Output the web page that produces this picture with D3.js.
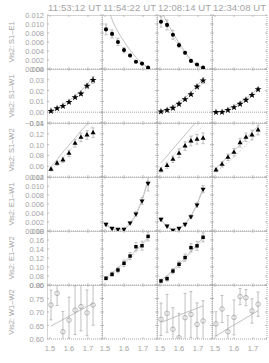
<!DOCTYPE html>
<html>
<head>
<meta charset="utf-8">
<script src="https://cdn.jsdelivr.net/npm/d3@7"></script>
<style>
  html, body { margin: 0; padding: 0; background: #fff; }
  svg { display: block; font-family: "Liberation Sans", "DejaVu Sans", sans-serif; }
  .lbl { fill: #a3a3a3; }
</style>
</head>
<body>
<svg id="chart" width="269" height="363"></svg>
<script>
// ---------------------------------------------------------------------------
// Squared visibility vs wavelength, one row per baseline, one column per epoch
// ---------------------------------------------------------------------------

const TIMES = ["11:53:12 UT", "11:54:22 UT", "12:08:14 UT", "12:34:08 UT"];
const BASELINES = ["S1\u2013E1", "S1\u2013W1", "S1\u2013W2", "E1\u2013W1", "E1\u2013W2", "W1\u2013W2"];
const WAVE = [1.505, 1.537, 1.568, 1.600, 1.632, 1.663, 1.695, 1.727];
const X_DOMAIN = [1.484, 1.774];
const X_TICKS = [1.5, 1.6, 1.7];

// y range and tick values per row
const Y_DOMAINS = [[0, 0.012], [-0.01, 0.04], [0.04, 0.14], [0, 0.012], [0.06, 0.18], [0.60, 0.80]];
const Y_TICKS = [
  [0, 0.002, 0.004, 0.006, 0.008, 0.010, 0.012],
  [-0.01, 0.00, 0.01, 0.02, 0.03, 0.04],
  [0.04, 0.06, 0.08, 0.10, 0.12, 0.14],
  [0, 0.002, 0.004, 0.006, 0.008, 0.010, 0.012],
  [0.06, 0.08, 0.10, 0.12, 0.14, 0.16, 0.18],
  [0.60, 0.65, 0.70, 0.75, 0.80],
];
const Y_FORMATS = [".3f", ".2f", ".2f", ".3f", ".2f", ".2f"];
const SYMBOLS = ["circle", "star", "triangle", "down", "square", "open"];

// S1-E1
const S1E1_T2 = [0.0088, 0.0078, 0.0060, 0.0042, 0.0030, 0.0016, 0.0012, 0.0003];
const S1E1_T2_ERR = [0.0012, 0.0009, 0.0008, 0.0006, 0.0003, 0.0002, 0.0002, 0.0001];
const S1E1_T2_FIT = [0.0150, 0.0110, 0.0083, 0.0061, 0.0042, 0.0026, 0.0013, 0.0004];
const S1E1_T2_ALT = [0.0098, 0.0080, 0.0062, 0.0045, 0.0030, 0.0018, 0.0009, 0.0003];
const S1E1_T3 = [0.0105, 0.0098, 0.0076, 0.0053, 0.0036, 0.0018, 0.0010, 0.0003];
const S1E1_T3_ERR = [0.0012, 0.0011, 0.0010, 0.0005, 0.0003, 0.0002, 0.0002, 0.0001];
const S1E1_T3_FIT = [0.0128, 0.0104, 0.0080, 0.0058, 0.0038, 0.0021, 0.0009, 0.0002];
const S1E1_T3_ALT = [0.0116, 0.0094, 0.0072, 0.0052, 0.0034, 0.0018, 0.0007, 0.0001];

// S1-W1
const S1W1_T1 = [0.0011, 0.0036, 0.0057, 0.0094, 0.0138, 0.0171, 0.0243, 0.0298];
const S1W1_T1_ERR = [0.0008, 0.0008, 0.0008, 0.0010, 0.0012, 0.0015, 0.0020, 0.0030];
const S1W1_T1_FIT = [0.0015, 0.0042, 0.0072, 0.0108, 0.0150, 0.0198, 0.0255, 0.0330];
const S1W1_T1_ALT = [0.0008, 0.0030, 0.0056, 0.0088, 0.0125, 0.0168, 0.0218, 0.0275];
const S1W1_T3 = [0.0005, 0.0020, 0.0039, 0.0076, 0.0119, 0.0166, 0.0236, 0.0292];
const S1W1_T3_ERR = [0.0005, 0.0005, 0.0006, 0.0008, 0.0010, 0.0012, 0.0015, 0.0025];
const S1W1_T3_FIT = [0.0010, 0.0030, 0.0058, 0.0093, 0.0135, 0.0185, 0.0245, 0.0315];
const S1W1_T3_ALT = [0.0002, 0.0020, 0.0044, 0.0075, 0.0112, 0.0156, 0.0208, 0.0268];
const S1W1_T4 = [0.0000, 0.0001, 0.0020, 0.0045, 0.0076, 0.0113, 0.0159, 0.0212];
const S1W1_T4_ERR = [0.0005, 0.0005, 0.0006, 0.0007, 0.0008, 0.0010, 0.0012, 0.0015];
const S1W1_T4_FIT = [-0.0003, 0.0012, 0.0032, 0.0058, 0.0090, 0.0128, 0.0172, 0.0222];
const S1W1_T4_ALT = [-0.0008, 0.0005, 0.0023, 0.0047, 0.0077, 0.0112, 0.0153, 0.0200];

// S1-W2
const S1W2_T1 = [0.0543, 0.0654, 0.0715, 0.0839, 0.1024, 0.1135, 0.1178, 0.1220];
const S1W2_T1_ERR = [0.003, 0.004, 0.005, 0.006, 0.007, 0.008, 0.008, 0.009];
const S1W2_T1_FIT = [0.059, 0.072, 0.086, 0.099, 0.112, 0.125, 0.138, 0.152];
const S1W2_T1_ALT = [0.052, 0.064, 0.076, 0.088, 0.100, 0.112, 0.124, 0.136];
const S1W2_T3 = [0.053, 0.061, 0.0728, 0.0839, 0.0974, 0.1067, 0.1098, 0.1117];
const S1W2_T3_ERR = [0.004, 0.005, 0.006, 0.008, 0.008, 0.009, 0.009, 0.010];
const S1W2_T3_FIT = [0.066, 0.079, 0.092, 0.105, 0.118, 0.131, 0.144, 0.157];
const S1W2_T3_ALT = [0.058, 0.069, 0.080, 0.091, 0.102, 0.113, 0.124, 0.135];
const S1W2_T4 = [0.053, 0.0635, 0.0765, 0.0857, 0.1035, 0.1135, 0.1178, 0.127];
const S1W2_T4_ERR = [0.003, 0.005, 0.006, 0.007, 0.008, 0.008, 0.009, 0.009];
const S1W2_T4_FIT = [0.056, 0.067, 0.078, 0.089, 0.100, 0.111, 0.123, 0.134];
const S1W2_T4_ALT = [0.050, 0.058, 0.067, 0.077, 0.088, 0.099, 0.110, 0.121];

// E1-W1
const E1W1_T2 = [0.0015, 0.0006, 0.0004, 0.0004, 0.0018, 0.0038, 0.0067, 0.0106];
const E1W1_T2_ERR = [0.0003, 0.0002, 0.0002, 0.0002, 0.0003, 0.0005, 0.0008, 0.0017];
const E1W1_T2_FIT = [0.0013, 0.0005, 0.0002, 0.0005, 0.0016, 0.0036, 0.0068, 0.0113];
const E1W1_T2_ALT = [0.0016, 0.0007, 0.0004, 0.0007, 0.0019, 0.0040, 0.0072, 0.0116];
const E1W1_T3 = [0.0026, 0.0011, 0.0002, 0.0006, 0.0015, 0.0032, 0.0058, 0.0093];
const E1W1_T3_ERR = [0.0003, 0.0002, 0.0001, 0.0002, 0.0003, 0.0004, 0.0005, 0.0008];
const E1W1_T3_FIT = [0.0025, 0.0010, 0.0004, 0.0006, 0.0016, 0.0033, 0.0059, 0.0094];
const E1W1_T3_ALT = [0.0027, 0.0012, 0.0005, 0.0007, 0.0017, 0.0035, 0.0062, 0.0098];

// E1-W2
const E1W2_T2 = [0.0749, 0.0838, 0.0933, 0.1082, 0.1244, 0.1451, 0.1473, 0.168];
const E1W2_T2_ERR = [0.004, 0.005, 0.006, 0.007, 0.008, 0.009, 0.010, 0.010];
const E1W2_T2_FIT = [0.076, 0.087, 0.098, 0.110, 0.123, 0.137, 0.151, 0.166];
const E1W2_T2_ALT = [0.072, 0.082, 0.093, 0.105, 0.118, 0.132, 0.147, 0.163];
const E1W2_T3 = [0.069, 0.074, 0.091, 0.106, 0.121, 0.143, 0.147, 0.166];
const E1W2_T3_ERR = [0.004, 0.005, 0.006, 0.007, 0.008, 0.009, 0.010, 0.010];
const E1W2_T3_FIT = [0.070, 0.081, 0.093, 0.106, 0.120, 0.135, 0.150, 0.166];
const E1W2_T3_ALT = [0.066, 0.077, 0.089, 0.102, 0.116, 0.131, 0.146, 0.162];

// W1-W2
const W1W2_T1 = [0.726, 0.769, 0.627, 0.670, 0.707, 0.720, 0.697, 0.726];
const W1W2_T1_ERR = [0.055, 0.045, 0.075, 0.085, 0.090, 0.090, 0.085, 0.075];
const W1W2_T1_FIT = [0.648, 0.660, 0.672, 0.684, 0.696, 0.708, 0.720, 0.732];
const W1W2_T3 = [0.673, 0.695, 0.636, 0.605, 0.679, 0.691, 0.654, 0.667];
const W1W2_T3_ERR = [0.060, 0.070, 0.080, 0.090, 0.090, 0.085, 0.080, 0.075];
const W1W2_T3_FIT = [0.662, 0.670, 0.679, 0.688, 0.697, 0.705, 0.714, 0.723];
const W1W2_T4 = [0.656, 0.711, 0.627, 0.680, 0.757, 0.753, 0.704, 0.729];
const W1W2_T4_ERR = [0.045, 0.050, 0.060, 0.065, 0.030, 0.030, 0.045, 0.045];
const W1W2_T4_FIT = [0.612, 0.625, 0.639, 0.652, 0.665, 0.678, 0.691, 0.705];

// which panel gets which series
const PANELS = [
  { row: 0, col: 1, v: S1E1_T2, e: S1E1_T2_ERR, fit: S1E1_T2_FIT, alt: S1E1_T2_ALT },
  { row: 0, col: 2, v: S1E1_T3, e: S1E1_T3_ERR, fit: S1E1_T3_FIT, alt: S1E1_T3_ALT },
  { row: 1, col: 0, v: S1W1_T1, e: S1W1_T1_ERR, fit: S1W1_T1_FIT, alt: S1W1_T1_ALT },
  { row: 1, col: 2, v: S1W1_T3, e: S1W1_T3_ERR, fit: S1W1_T3_FIT, alt: S1W1_T3_ALT },
  { row: 1, col: 3, v: S1W1_T4, e: S1W1_T4_ERR, fit: S1W1_T4_FIT, alt: S1W1_T4_ALT },
  { row: 2, col: 0, v: S1W2_T1, e: S1W2_T1_ERR, fit: S1W2_T1_FIT, alt: S1W2_T1_ALT },
  { row: 2, col: 2, v: S1W2_T3, e: S1W2_T3_ERR, fit: S1W2_T3_FIT, alt: S1W2_T3_ALT },
  { row: 2, col: 3, v: S1W2_T4, e: S1W2_T4_ERR, fit: S1W2_T4_FIT, alt: S1W2_T4_ALT },
  { row: 3, col: 1, v: E1W1_T2, e: E1W1_T2_ERR, fit: E1W1_T2_FIT, alt: E1W1_T2_ALT },
  { row: 3, col: 2, v: E1W1_T3, e: E1W1_T3_ERR, fit: E1W1_T3_FIT, alt: E1W1_T3_ALT },
  { row: 4, col: 1, v: E1W2_T2, e: E1W2_T2_ERR, fit: E1W2_T2_FIT, alt: E1W2_T2_ALT },
  { row: 4, col: 2, v: E1W2_T3, e: E1W2_T3_ERR, fit: E1W2_T3_FIT, alt: E1W2_T3_ALT },
  { row: 5, col: 0, v: W1W2_T1, e: W1W2_T1_ERR, fit: W1W2_T1_FIT, alt: null },
  { row: 5, col: 2, v: W1W2_T3, e: W1W2_T3_ERR, fit: W1W2_T3_FIT, alt: null },
  { row: 5, col: 3, v: W1W2_T4, e: W1W2_T4_ERR, fit: W1W2_T4_FIT, alt: null },
];

// layout
const LEFT = 47, TOP = 15, COL_W = 55, ROW_H = 54;
const GREY = "#999";
const LINE = "#a6a6a6";

const svg = d3.select("#chart");
const x0 = d3.scaleLinear().domain(X_DOMAIN).range([0, COL_W]);

// column titles
svg.selectAll("text.title").data(TIMES).enter().append("text")
  .attr("class", "lbl title")
  .attr("x", (d, i) => LEFT + i * COL_W + COL_W / 2)
  .attr("y", 11)
  .attr("text-anchor", "middle")
  .attr("font-size", 9.5)
  .attr("textLength", 53)
  .attr("lengthAdjust", "spacing")
  .text((d) => d);

function symbolPath(kind) {
  if (kind === "star") return d3.symbol(d3.symbolStar, 15)();
  if (kind === "triangle" || kind === "down") return d3.symbol(d3.symbolTriangle, 11)();
  if (kind === "square") return d3.symbol(d3.symbolSquare, 12)();
  if (kind === "open") return d3.symbol(d3.symbolCircle, 16)();
  return d3.symbol(d3.symbolCircle, 13)();
}

const defs = svg.append("defs");

for (let r = 0; r < BASELINES.length; r++) {
  const y = d3.scaleLinear().domain(Y_DOMAINS[r]).range([ROW_H, 0]);
  const top = TOP + r * ROW_H;

  // y axis title
  svg.append("text")
    .attr("class", "lbl")
    .attr("transform", `translate(14,${top + ROW_H / 2}) rotate(-90)`)
    .attr("text-anchor", "middle")
    .attr("font-size", 7.5)
    .text("Vis2: " + BASELINES[r]);

  // y tick labels (first column only)
  const fmt = d3.format(Y_FORMATS[r]);
  svg.selectAll(null).data(Y_TICKS[r]).enter().append("text")
    .attr("class", "lbl")
    .attr("x", LEFT - 3)
    .attr("y", (d) => top + y(d) + 3)
    .attr("text-anchor", "end")
    .attr("font-size", 7.5)
    .text((d) => fmt(d));

  for (let c = 0; c < TIMES.length; c++) {
    const left = LEFT + c * COL_W;
    const g = svg.append("g").attr("transform", `translate(${left},${top})`);
    const clipId = `clip-${r}-${c}`;
    defs.append("clipPath").attr("id", clipId)
      .append("rect").attr("width", COL_W).attr("height", ROW_H);

    // ticks (inward)
    g.selectAll(null).data(Y_TICKS[r]).enter().append("line")
      .attr("x1", 0).attr("x2", 2)
      .attr("y1", (d) => y(d)).attr("y2", (d) => y(d))
      .attr("stroke", LINE).attr("stroke-width", 0.7);
    g.selectAll(null).data(Y_TICKS[r]).enter().append("line")
      .attr("x1", COL_W).attr("x2", COL_W - 2)
      .attr("y1", (d) => y(d)).attr("y2", (d) => y(d))
      .attr("stroke", LINE).attr("stroke-width", 0.7);
    g.selectAll(null).data(X_TICKS).enter().append("line")
      .attr("x1", (d) => x0(d)).attr("x2", (d) => x0(d))
      .attr("y1", ROW_H).attr("y2", ROW_H - 2)
      .attr("stroke", LINE).attr("stroke-width", 0.7);
    g.selectAll(null).data(X_TICKS).enter().append("line")
      .attr("x1", (d) => x0(d)).attr("x2", (d) => x0(d))
      .attr("y1", 0).attr("y2", 2)
      .attr("stroke", LINE).attr("stroke-width", 0.7);

    // dotted frame
    g.append("rect")
      .attr("x", 0.5).attr("y", 0.5)
      .attr("width", COL_W - 0.5).attr("height", ROW_H - 0.5)
      .attr("fill", "none").attr("stroke", LINE)
      .attr("stroke-width", 1).attr("stroke-dasharray", "1,1");

    // zero reference on the S1-W1 row
    if (Y_DOMAINS[r][0] < 0) {
      g.append("line")
        .attr("x1", 0).attr("x2", COL_W)
        .attr("y1", y(0)).attr("y2", y(0))
        .attr("stroke", LINE).attr("stroke-dasharray", "1,1");
    }

    // bottom row x labels
    if (r === BASELINES.length - 1) {
      svg.selectAll(null).data(X_TICKS).enter().append("text")
        .attr("class", "lbl")
        .attr("x", (d) => left + x0(d))
        .attr("y", top + ROW_H + 12)
        .attr("text-anchor", "middle")
        .attr("font-size", 7.5)
        .text((d) => d3.format(".1f")(d));
    }

    const p = PANELS.find((q) => q.row === r && q.col === c);
    if (!p) continue;

    const inner = g.append("g").attr("clip-path", `url(#${clipId})`);
    const line = d3.line().x((d, i) => x0(WAVE[i])).y((d) => y(d)).curve(d3.curveMonotoneX);

    inner.append("path").attr("d", line(p.fit))
      .attr("fill", "none").attr("stroke", LINE).attr("stroke-width", 0.7);
    if (p.alt) {
      inner.append("path").attr("d", line(p.alt))
        .attr("fill", "none").attr("stroke", LINE).attr("stroke-width", 0.7)
        .attr("stroke-dasharray", "1,1.5");
    }

    // error bars with caps
    const eb = inner.selectAll("g.eb").data(p.v).enter().append("g").attr("class", "eb");
    eb.append("line")
      .attr("x1", (d, i) => x0(WAVE[i])).attr("x2", (d, i) => x0(WAVE[i]))
      .attr("y1", (d, i) => y(d - p.e[i])).attr("y2", (d, i) => y(d + p.e[i]))
      .attr("stroke", LINE).attr("stroke-width", 0.7);
    [-1, 1].forEach((s) => {
      eb.append("line")
        .attr("x1", (d, i) => x0(WAVE[i]) - 1.5).attr("x2", (d, i) => x0(WAVE[i]) + 1.5)
        .attr("y1", (d, i) => y(d + s * p.e[i])).attr("y2", (d, i) => y(d + s * p.e[i]))
        .attr("stroke", LINE).attr("stroke-width", 0.7);
    });

    // markers
    const kind = SYMBOLS[r];
    const open = kind === "open";
    inner.selectAll("path.pt").data(p.v).enter().append("path")
      .attr("class", "pt")
      .attr("d", symbolPath(kind))
      .attr("transform", (d, i) => `translate(${x0(WAVE[i])},${y(d)})${kind === "down" ? " rotate(180)" : ""}`)
      .attr("fill", open ? "none" : "#000")
      .attr("stroke", open ? GREY : "none")
      .attr("stroke-width", 0.7);
  }
}
</script>
</body>
</html>
